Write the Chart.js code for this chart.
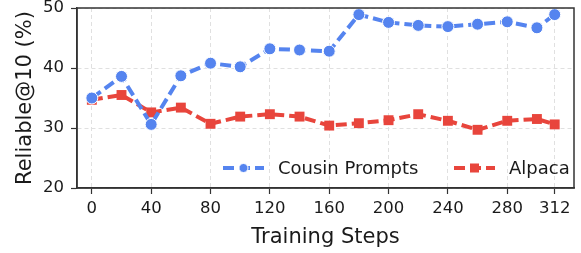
<!DOCTYPE html>
<html>
<head>
<meta charset="utf-8">
<script src="https://cdn.jsdelivr.net/npm/chart.js@4.4.1/dist/chart.umd.min.js"></script>
<style>
  html, body { margin: 0; padding: 0; background: #fff; }
  #wrap { width: 581px; height: 253px; }
</style>
</head>
<body>
<div id="wrap"><canvas id="chart" width="581" height="253"></canvas></div>
<script>
// data
var steps = [0, 20, 40, 60, 80, 100, 120, 140, 160, 180, 200, 220, 240, 260, 280, 300, 312];
var cousin = [35.0, 38.6, 30.6, 38.7, 40.8, 40.2, 43.2, 43.0, 42.8, 48.9, 47.6, 47.1, 46.9, 47.3, 47.7, 46.7, 48.9];
var alpaca = [34.7, 35.5, 32.6, 33.4, 30.7, 31.9, 32.3, 31.9, 30.4, 30.8, 31.3, 32.3, 31.2, 29.7, 31.2, 31.5, 30.6];
var xTicks = [0, 40, 80, 120, 160, 200, 240, 280, 312];
var yTicks = [20, 30, 40, 50];

var blue = '#5584ef';
var red = '#e8453c';
var font = "'DejaVu Sans', sans-serif";
var ink = '#1a1a1a';

function pts(ys) {
  return steps.map(function (s, i) { return { x: s, y: ys[i] }; });
}

// box around the plot + legend inside the bottom right
var boxLegend = {
  id: 'boxLegend',
  afterDatasetsDraw: function (chart) {
    var ctx = chart.ctx, a = chart.chartArea;
    ctx.save();
    ctx.strokeStyle = '#333';
    ctx.lineWidth = 1.5;
    ctx.strokeRect(a.left, a.top, a.right - a.left, a.bottom - a.top);

    var items = [
      { x: 223, ds: chart.data.datasets[0] },
      { x: 454, ds: chart.data.datasets[1] }
    ];
    var y = 168;
    ctx.font = '18px ' + font;
    ctx.textBaseline = 'middle';
    items.forEach(function (it) {
      ctx.strokeStyle = it.ds.borderColor;
      ctx.lineWidth = 4;
      ctx.setLineDash([11, 5]);
      ctx.beginPath();
      ctx.moveTo(it.x, y);
      ctx.lineTo(it.x + 41, y);
      ctx.stroke();
      ctx.setLineDash([]);
      ctx.fillStyle = it.ds.borderColor;
      ctx.strokeStyle = '#fff';
      ctx.lineWidth = 1;
      var cx = it.x + 20.5;
      if (it.ds.pointStyle === 'rect') {
        ctx.fillRect(cx - 4.5, y - 4.5, 9, 9);
      } else {
        ctx.beginPath();
        ctx.arc(cx, y, 4.5, 0, Math.PI * 2);
        ctx.fill();
        ctx.stroke();
      }
      ctx.fillStyle = ink;
      ctx.fillText(it.ds.label, it.x + 55, y + 1);
    });
    ctx.restore();
  }
};

new Chart(document.getElementById('chart'), {
  type: 'line',
  data: {
    datasets: [
      {
        label: 'Cousin Prompts',
        data: pts(cousin),
        borderColor: blue,
        backgroundColor: blue,
        borderWidth: 4,
        borderDash: [11, 5],
        pointStyle: 'circle',
        pointRadius: 6,
        pointBorderColor: '#fff',
        pointBorderWidth: 1,
        pointBackgroundColor: blue,
        tension: 0
      },
      {
        label: 'Alpaca',
        data: pts(alpaca),
        borderColor: red,
        backgroundColor: red,
        borderWidth: 4,
        borderDash: [11, 5],
        pointStyle: 'rect',
        pointRadius: 7,
        pointBorderColor: red,
        pointBorderWidth: 0,
        pointBackgroundColor: red,
        tension: 0
      }
    ]
  },
  options: {
    responsive: false,
    animation: false,
    layout: { padding: { left: 0, right: 5, top: 8, bottom: 0 } },
    plugins: {
      legend: { display: false },
      tooltip: { enabled: false }
    },
    scales: {
      x: {
        type: 'linear',
        min: -10,
        max: 325,
        afterBuildTicks: function (s) {
          s.ticks = xTicks.map(function (v) { return { value: v }; });
        },
        afterFit: function (s) {
          s.height = 65;
          s.paddingLeft = 0;
          s.paddingRight = 0;
        },
        ticks: {
          color: ink,
          font: { family: font, size: 16.5 },
          padding: 5,
          maxRotation: 0,
          autoSkip: false
        },
        grid: {
          color: '#e0e0e0',
          lineWidth: 1,
          tickColor: '#333',
          tickLength: 6,
          tickBorderDash: [],
          tickWidth: 1.2
        },
        border: { display: true, color: '#333', width: 1.5, dash: [4, 3] },
        title: {
          display: true,
          text: 'Training Steps',
          color: ink,
          font: { family: font, size: 21 },
          padding: { top: 0, bottom: 3 }
        }
      },
      y: {
        min: 20,
        max: 50,
        afterBuildTicks: function (s) {
          s.ticks = yTicks.map(function (v) { return { value: v }; });
        },
        afterFit: function (s) {
          s.width = 77;
          s.paddingTop = 0;
          s.paddingBottom = 0;
        },
        ticks: {
          color: ink,
          font: { family: font, size: 16.5 },
          padding: 7
        },
        grid: {
          color: '#e0e0e0',
          lineWidth: 1,
          tickColor: '#333',
          tickLength: 6,
          tickBorderDash: [],
          tickWidth: 1.2
        },
        border: { display: true, color: '#333', width: 1.5, dash: [4, 3] },
        title: {
          display: true,
          text: 'Reliable@10 (%)',
          color: ink,
          font: { family: font, size: 21 },
          padding: { top: 13, bottom: 0 }
        }
      }
    }
  },
  plugins: [boxLegend]
});
</script>
</body>
</html>
